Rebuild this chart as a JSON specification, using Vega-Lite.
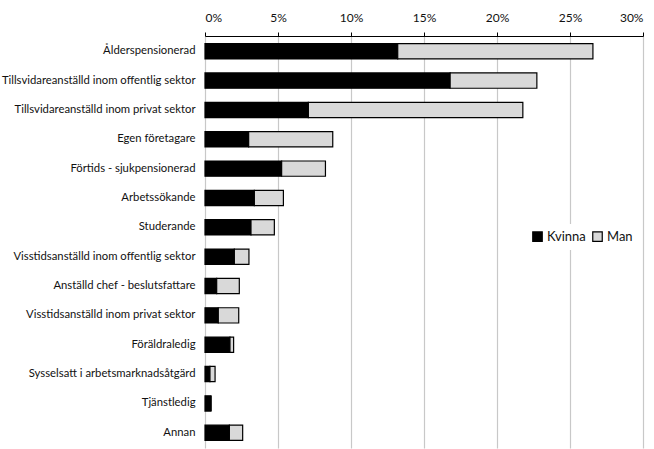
{
  "$schema": "https://vega.github.io/schema/vega-lite/v6.json",
  "width": 438,
  "height": 412,
  "autosize": {"type": "none"},
  "padding": {"left": 205, "top": 36, "right": 11, "bottom": 1},
  "background": "white",
  "config": {
    "view": {"stroke": null},
    "font": "Lato",
    "axis": {"labelFont": "Lato", "labelFontSize": 11.3, "labelColor": "#111111"}
  },
  "data": {
    "values": [
      {"kategori": "Ålderspensionerad", "kon": "Kvinna", "andel": 13.2},
      {"kategori": "Ålderspensionerad", "kon": "Man", "andel": 13.37},
      {"kategori": "Tillsvidareanställd inom offentlig sektor", "kon": "Kvinna", "andel": 16.79},
      {"kategori": "Tillsvidareanställd inom offentlig sektor", "kon": "Man", "andel": 5.94},
      {"kategori": "Tillsvidareanställd inom privat sektor", "kon": "Kvinna", "andel": 7.08},
      {"kategori": "Tillsvidareanställd inom privat sektor", "kon": "Man", "andel": 14.69},
      {"kategori": "Egen företagare", "kon": "Kvinna", "andel": 2.99},
      {"kategori": "Egen företagare", "kon": "Man", "andel": 5.76},
      {"kategori": "Förtids - sjukpensionerad", "kon": "Kvinna", "andel": 5.25},
      {"kategori": "Förtids - sjukpensionerad", "kon": "Man", "andel": 3.0},
      {"kategori": "Arbetssökande", "kon": "Kvinna", "andel": 3.38},
      {"kategori": "Arbetssökande", "kon": "Man", "andel": 1.99},
      {"kategori": "Studerande", "kon": "Kvinna", "andel": 3.15},
      {"kategori": "Studerande", "kon": "Man", "andel": 1.6},
      {"kategori": "Visstidsanställd inom offentlig sektor", "kon": "Kvinna", "andel": 2.01},
      {"kategori": "Visstidsanställd inom offentlig sektor", "kon": "Man", "andel": 1.0},
      {"kategori": "Anställd chef - beslutsfattare", "kon": "Kvinna", "andel": 0.8},
      {"kategori": "Anställd chef - beslutsfattare", "kon": "Man", "andel": 1.55},
      {"kategori": "Visstidsanställd inom privat sektor", "kon": "Kvinna", "andel": 0.91},
      {"kategori": "Visstidsanställd inom privat sektor", "kon": "Man", "andel": 1.4},
      {"kategori": "Föräldraledig", "kon": "Kvinna", "andel": 1.71},
      {"kategori": "Föräldraledig", "kon": "Man", "andel": 0.25},
      {"kategori": "Sysselsatt i arbetsmarknadsåtgärd", "kon": "Kvinna", "andel": 0.34},
      {"kategori": "Sysselsatt i arbetsmarknadsåtgärd", "kon": "Man", "andel": 0.35},
      {"kategori": "Tjänstledig", "kon": "Kvinna", "andel": 0.41},
      {"kategori": "Tjänstledig", "kon": "Man", "andel": 0.0},
      {"kategori": "Annan", "kon": "Kvinna", "andel": 1.67},
      {"kategori": "Annan", "kon": "Man", "andel": 0.91}
    ]
  },
  "mark": {"type": "bar", "stroke": "black", "strokeWidth": 1.2},
  "encoding": {
    "y": {
      "field": "kategori",
      "type": "nominal",
      "sort": [
        "Ålderspensionerad",
        "Tillsvidareanställd inom offentlig sektor",
        "Tillsvidareanställd inom privat sektor",
        "Egen företagare",
        "Förtids - sjukpensionerad",
        "Arbetssökande",
        "Studerande",
        "Visstidsanställd inom offentlig sektor",
        "Anställd chef - beslutsfattare",
        "Visstidsanställd inom privat sektor",
        "Föräldraledig",
        "Sysselsatt i arbetsmarknadsåtgärd",
        "Tjänstledig",
        "Annan"
      ],
      "scale": {"paddingInner": 0.48, "paddingOuter": 0.26},
      "axis": {"title": null, "domain": false, "ticks": false, "labelPadding": 10, "labelLimit": 400}
    },
    "x": {
      "field": "andel",
      "type": "quantitative",
      "stack": "zero",
      "scale": {"domain": [0, 30], "nice": false},
      "axis": {
        "orient": "top",
        "title": null,
        "values": [0, 5, 10, 15, 20, 25, 30],
        "labelExpr": "datum.value + '%'",
        "labelFontSize": 12,
        "domainColor": "black",
        "domainWidth": 1,
        "tickColor": "black",
        "tickSize": 4,
        "labelPadding": 8,
        "grid": true,
        "gridColor": "#c8c8c8",
        "gridWidth": 1.2
      }
    },
    "color": {
      "field": "kon",
      "type": "nominal",
      "scale": {"domain": ["Kvinna", "Man"], "range": ["#000000", "#d9d9d9"]},
      "legend": {
        "title": null,
        "orient": "none",
        "legendX": 320,
        "legendY": 188,
        "direction": "horizontal",
        "symbolType": "square",
        "symbolSize": 90,
        "symbolStrokeColor": "black",
        "symbolStrokeWidth": 1.2,
        "labelFontSize": 13,
        "labelFont": "Lato",
        "labelColor": "#111111",
        "columnPadding": 4,
        "labelOffset": 3,
        "fillColor": "white",
        "padding": 6
      }
    },
    "order": {"field": "kon", "type": "nominal", "sort": "ascending"}
  }
}
